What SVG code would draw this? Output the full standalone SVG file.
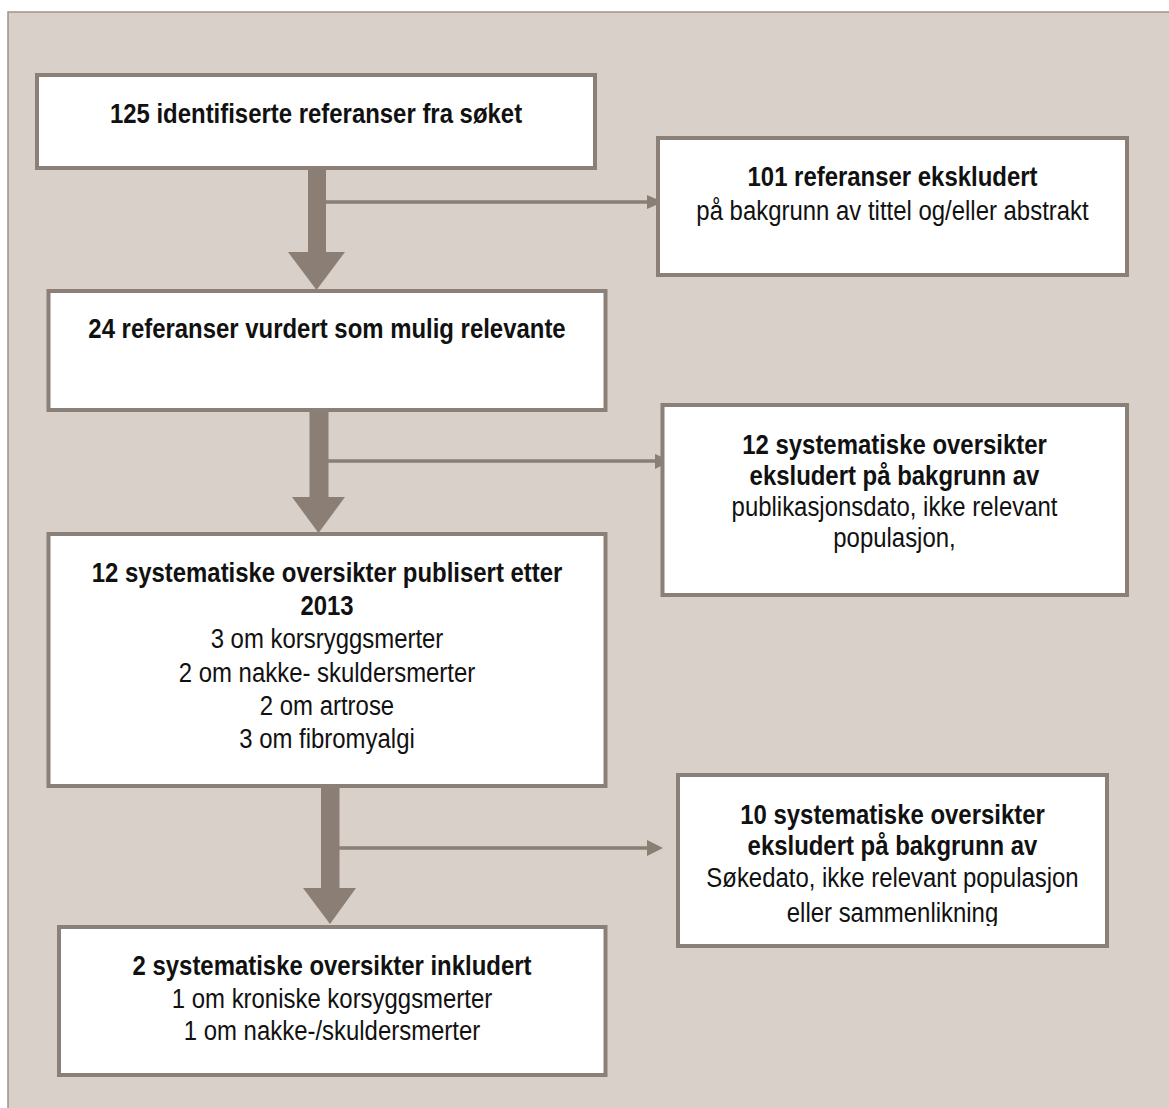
<svg xmlns="http://www.w3.org/2000/svg" width="1169" height="1108" viewBox="0 0 1169 1108">
  <defs>
    <style>
      .panel { fill: #d8d0c9; stroke: #9d948c; stroke-width: 1.5; }
      .box { fill: #ffffff; stroke: #8b8078; stroke-width: 4; }
      .t { font-family: "Liberation Sans Narrow", "Arial Narrow", "Liberation Sans", sans-serif; font-size: 28px; fill: #111111; text-anchor: middle; }
      .b { font-weight: bold; }
      .shaft { fill: #8a7e75; }
      .thin { stroke: #8a7e75; stroke-width: 3.5; fill: none; }
      .head { fill: #8a7e75; }
    </style>
    <clipPath id="clipR3">
      <rect x="680" y="777" width="425" height="149"/>
    </clipPath>
  </defs>

  <rect id="background" class="panel" x="8" y="12" width="1180" height="1120"/>

  <g id="connectors">
    <rect class="shaft" x="308" y="168" width="18" height="85"/>
    <polygon class="head" points="288,252 345,252 316.5,290"/>
    <rect class="shaft" x="309.5" y="410" width="19" height="88"/>
    <polygon class="head" points="292,497 345,497 318.5,533"/>
    <rect class="shaft" x="321" y="786" width="18.5" height="103"/>
    <polygon class="head" points="303,888 356,888 330,924"/>
    <line class="thin" x1="326" y1="202" x2="649" y2="202"/>
    <polygon class="head" points="647,195 663,202 647,209"/>
    <line class="thin" x1="317" y1="461" x2="657" y2="461"/>
    <polygon class="head" points="655,454 671,461 655,469"/>
    <line class="thin" x1="339" y1="848" x2="649" y2="848"/>
    <polygon class="head" points="647,840 663,848 647,856"/>
  </g>

  <g id="node-identified">
    <rect class="box" x="37" y="75" width="558" height="93"/>
    <g transform="translate(316 0) scale(0.855 1)">
      <text class="t b" x="0" y="123">125 identifiserte referanser fra søket</text>
    </g>
  </g>

  <g id="node-excluded-101">
    <rect class="box" x="658" y="138" width="469" height="137"/>
    <g transform="translate(892.5 0) scale(0.855 1)">
      <text class="t b" x="0" y="186">101 referanser ekskludert</text>
      <text class="t" x="0" y="220">på bakgrunn av tittel og/eller abstrakt</text>
    </g>
  </g>

  <g id="node-relevant-24">
    <rect class="box" x="48.5" y="291" width="557" height="119"/>
    <g transform="translate(327 0) scale(0.855 1)">
      <text class="t b" x="0" y="338">24 referanser vurdert som mulig relevante</text>
    </g>
  </g>

  <g id="node-excluded-12">
    <rect class="box" x="662.5" y="405" width="464.5" height="190"/>
    <g transform="translate(894.5 0) scale(0.855 1)">
      <text class="t b" x="0" y="454">12 systematiske oversikter</text>
      <text class="t b" x="0" y="485">eksludert på bakgrunn av</text>
      <text class="t" x="0" y="516">publikasjonsdato, ikke relevant</text>
      <text class="t" x="0" y="547">populasjon,</text>
    </g>
  </g>

  <g id="node-published-12">
    <rect class="box" x="48.5" y="534" width="557" height="252"/>
    <g transform="translate(327 0) scale(0.855 1)">
      <text class="t b" x="0" y="582">12 systematiske oversikter publisert etter</text>
      <text class="t b" x="0" y="615">2013</text>
      <text class="t" x="0" y="648">3 om korsryggsmerter</text>
      <text class="t" x="0" y="682">2 om nakke- skuldersmerter</text>
      <text class="t" x="0" y="715">2 om artrose</text>
      <text class="t" x="0" y="748">3 om fibromyalgi</text>
    </g>
  </g>

  <g id="node-excluded-10">
    <rect class="box" x="678" y="775" width="429" height="171"/>
    <g clip-path="url(#clipR3)">
      <g transform="translate(892.5 0) scale(0.855 1)">
        <text class="t b" x="0" y="824">10 systematiske oversikter</text>
        <text class="t b" x="0" y="855">eksludert på bakgrunn av</text>
        <text class="t" x="0" y="887">Søkedato, ikke relevant populasjon</text>
        <text class="t" x="0" y="922">eller sammenlikning</text>
      </g>
    </g>
  </g>

  <g id="node-included-2">
    <rect class="box" x="59" y="927" width="546.5" height="148"/>
    <g transform="translate(332 0) scale(0.855 1)">
      <text class="t b" x="0" y="975">2 systematiske oversikter inkludert</text>
      <text class="t" x="0" y="1008">1 om kroniske korsyggsmerter</text>
      <text class="t" x="0" y="1040">1 om nakke-/skuldersmerter</text>
    </g>
  </g>
</svg>
